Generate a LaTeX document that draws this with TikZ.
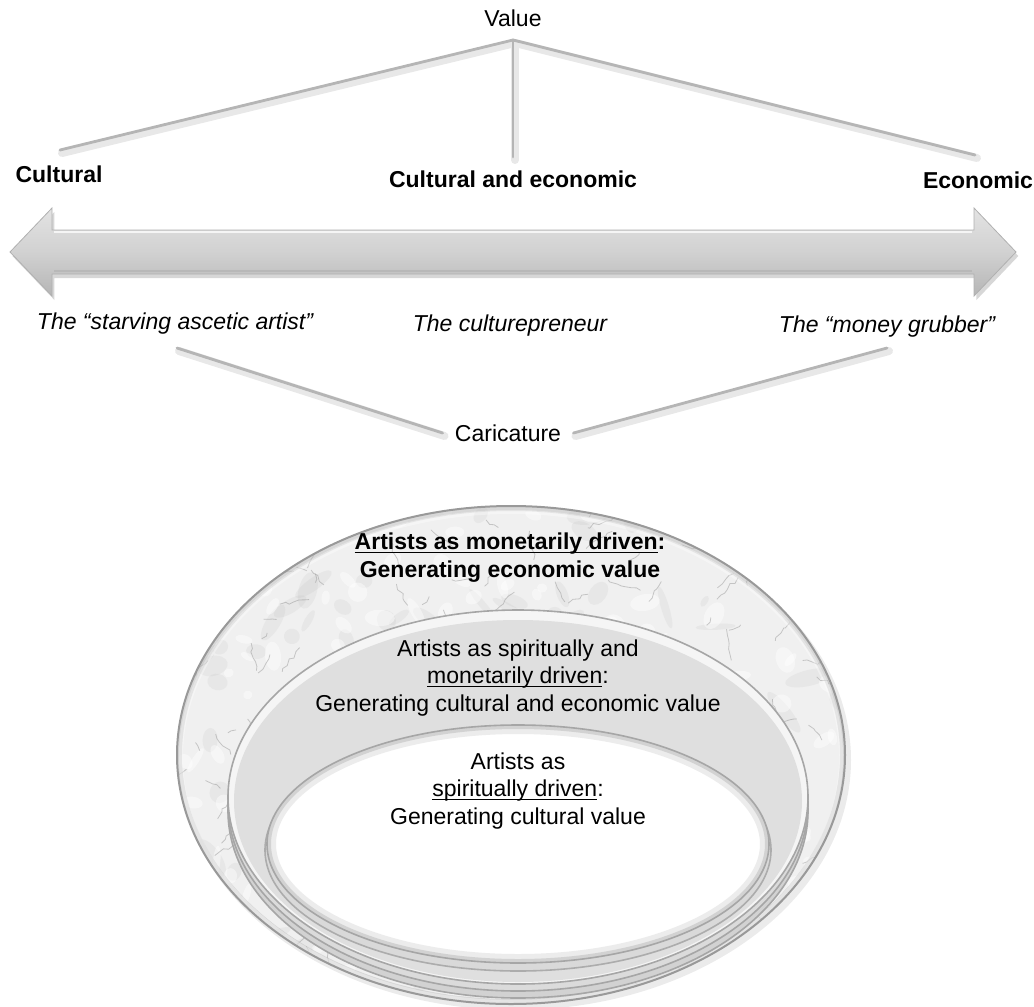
\documentclass[tikz,border=0pt]{standalone}
\usepackage{fontspec}
\setmainfont{Liberation Sans}
\usetikzlibrary{shadows,decorations.pathmorphing}

\newcommand{\ul}[1]{\underline{\smash{#1}}}

\tikzset{
  lbl/.style={font=\fontsize{11.5}{13.75}\selectfont, inner sep=2pt, align=center},
  boldlbl/.style={lbl, font=\fontsize{11.5}{13.75}\selectfont\bfseries},
  itlbl/.style={lbl, font=\fontsize{11.5}{13.75}\selectfont\itshape},
  glowline/.style={line width=4pt, gray!18, line cap=round},
  barline/.style={line width=1.4pt, gray!58, line cap=round},
  bararrow/.style={draw=gray!62, line width=0.4pt,
    top color=gray!22, bottom color=gray!58, middle color=gray!36,
    drop shadow={shadow xshift=1.2pt, shadow yshift=-2pt, fill=gray!70, opacity=0.45}},
  rimline/.style={draw=gray!70, line width=0.8pt},
  vein/.style={gray!80, line width=0.4pt, opacity=0.5,
    decorate, decoration={random steps, segment length=2.5pt, amplitude=1pt}},
}

\begin{document}
\begin{tikzpicture}[x=0.5pt, y=-0.5pt]
\useasboundingbox (0,0) rectangle (1034,1007);

% ---------- value hierarchy ----------
\node[lbl] (value) at (513,18) {Value};
\coordinate (apex) at (513,40);
\coordinate (endL) at (60,150);
\coordinate (endM) at (513,157);
\coordinate (endR) at (975,155);

\foreach \e in {endL,endM,endR}{
  \draw[glowline] ([shift={(2,3)}]apex) -- ([shift={(2,3)}]\e);
}
\foreach \e in {endL,endM,endR}{
  \draw[barline] (apex) -- (\e);
}

\node[boldlbl] (cult) at (59,174) {Cultural};
\node[boldlbl] (both) at (513,179) {Cultural and economic};
\node[boldlbl] (econ) at (978,180) {Economic};

% ---------- double-headed scale arrow ----------
\path[bararrow] (10,252) -- (52,208) -- (52,230) -- (974,230) -- (974,208)
  -- (1016,252) -- (974,296) -- (974,274) -- (52,274) -- (52,296) -- cycle;
\draw[white, opacity=0.75, line width=0.8pt] (54,232) -- (972,232);
\draw[gray!62, opacity=0.6, line width=0.8pt] (54,271) -- (972,271);

% ---------- caricatures ----------
\node[itlbl] (starve) at (175,324) {The “starving ascetic artist”};
\node[itlbl] (cpre) at (510,326) {The culturepreneur};
\node[itlbl] (money) at (887,327) {The “money grubber”};

\node[lbl, inner sep=6pt] (car) at (508,433) {Caricature};
\coordinate (cL) at (177,348);
\coordinate (cR) at (887,348);
\draw[glowline] ([shift={(2,3)}]cL) -- ([shift={(2,3)}]car.west);
\draw[glowline] ([shift={(2,3)}]cR) -- ([shift={(2,3)}]car.east);
\draw[barline] (cL) -- (car.west);
\draw[barline] (cR) -- (car.east);

% ---------- nested rings ----------
% outer marble ring
\fill[gray!45, opacity=0.35] (515,760) ellipse [x radius=336, y radius=250];
\fill[gray!12] (511,755) ellipse [x radius=334, y radius=249];
\begin{scope}
  \clip (511,755) ellipse [x radius=334, y radius=249];
  \pgfmathsetseed{11}
  \foreach \i in {1,...,120}{
    \pgfmathsetmacro\xa{180+rnd*660}
    \pgfmathsetmacro\ya{506+rnd*490}
    \pgfmathsetmacro\ra{6+rnd*20}
    \pgfmathsetmacro\rb{3+rnd*8}
    \pgfmathsetmacro\rt{rnd*180}
    \fill[gray!55, opacity=0.16, rotate around={\rt:(\xa,\ya)}] (\xa,\ya) ellipse [x radius=\ra, y radius=\rb];
  }
  \foreach \i in {1,...,160}{
    \pgfmathsetmacro\xa{180+rnd*660}
    \pgfmathsetmacro\ya{506+rnd*490}
    \pgfmathsetmacro\ra{4+rnd*12}
    \pgfmathsetmacro\rb{3+rnd*7}
    \pgfmathsetmacro\rt{rnd*180}
    \fill[white, opacity=0.45, rotate around={\rt:(\xa,\ya)}] (\xa,\ya) ellipse [x radius=\ra, y radius=\rb];
  }
  \foreach \i in {1,...,240}{
    \pgfmathsetmacro\xa{180+rnd*660}
    \pgfmathsetmacro\ya{506+rnd*490}
    \pgfmathsetmacro\an{rnd*360}
    \pgfmathsetmacro\ln{8+rnd*26}
    \draw[vein] (\xa,\ya) -- ++(\an:\ln);
  }
  \draw[gray!55, line width=5pt, opacity=0.45] (511,755) ellipse [x radius=334, y radius=249];
  \draw[white, line width=2pt, opacity=0.35] (511,757) ellipse [x radius=330, y radius=245];
\end{scope}
\draw[gray!80, line width=1pt] (511,755) ellipse [x radius=334, y radius=249];

% middle ring with stacked rims
\filldraw[fill=gray!35, rimline] (518,811) ellipse [x radius=290, y radius=187];
\filldraw[fill=gray!28, rimline] (518,804) ellipse [x radius=290, y radius=187];
\filldraw[fill=gray!8, rimline] (518,797) ellipse [x radius=290, y radius=187];
\fill[gray!25] (518,801) ellipse [x radius=284, y radius=181];

% inner white core
\filldraw[fill=gray!30, draw=gray!65, line width=0.8pt] (518,850) ellipse [x radius=253, y radius=121];
\fill[white] (518,844) ellipse [x radius=251, y radius=119];
\begin{scope}
  \clip (518,844) ellipse [x radius=251, y radius=119];
  \draw[gray!15, line width=9pt] (518,844) ellipse [x radius=251, y radius=119];
  \draw[gray!35, line width=4pt] (518,844) ellipse [x radius=251, y radius=119];
\end{scope}
\draw[gray!70, line width=0.8pt] (518,844) ellipse [x radius=251, y radius=119];

% ring texts
\node[boldlbl] (outerT) at (510,560)
  {\ul{Artists as monetarily driven}:\\Generating economic value};
\node[lbl] (midT) at (518,678)
  {Artists as spiritually and\\\ul{monetarily driven}:\\Generating cultural and economic value};
\node[lbl] (innT) at (518,791)
  {Artists as\\\ul{spiritually driven}:\\Generating cultural value};
\end{tikzpicture}
\end{document}
